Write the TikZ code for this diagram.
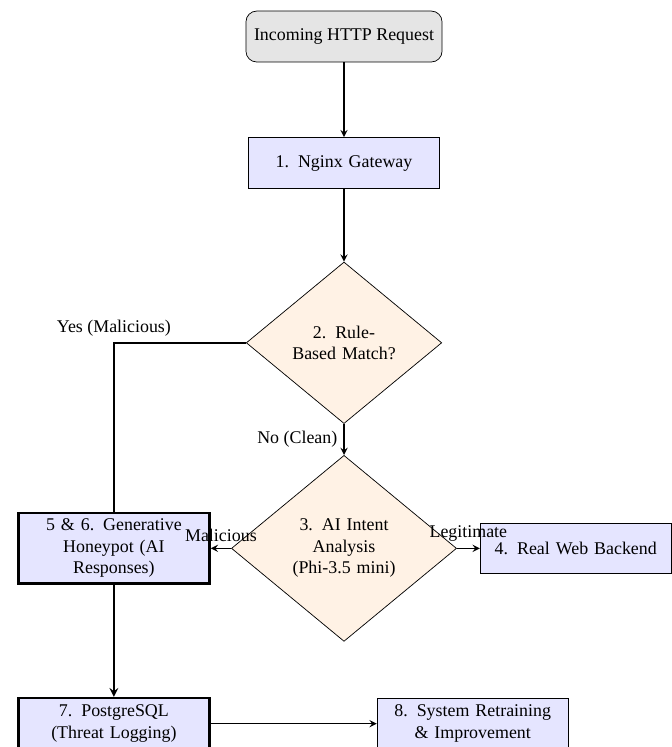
\documentclass[tikz,border=0pt]{standalone}
\usepackage{fontspec}
\setmainfont{Liberation Serif}
\usetikzlibrary{shapes.geometric,positioning}

\begin{document}
\begin{tikzpicture}[
    auto,
    startbox/.style={
        rectangle,
        draw,
        rounded corners=6pt,
        fill=gray!20,
        minimum width=3.85cm,
        minimum height=1cm,
        align=center
    },
    process/.style={
        rectangle,
        draw,
        fill=blue!10,
        text width=3.52cm,
        minimum height=1cm,
        align=center
    },
    keybox/.style={
        process,
        line width=1.4pt
    },
    decision/.style={
        diamond,
        draw,
        fill=orange!10,
        text width=2.25cm,
        aspect=1.21,
        inner sep=5pt,
        align=center
    },
    arrow/.style={draw, thick, -stealth},
    line/.style={draw, thick}
]

% Page frame
\useasboundingbox (-6.755,0.717) rectangle (6.421,-13.951);

% Entry
\node [startbox] (request) at (0,0) {Incoming HTTP Request};

% Main path
\node [process, below=1.47cm of request] (gateway) {1. Nginx Gateway};
\node [decision, below=1.43cm of gateway] (rulematch) {2. Rule-\\Based Match?};
\node [decision, below=0.61cm of rulematch] (intent) {3. AI Intent\\Analysis\\(Phi-3.5 mini)};

% Outcomes
\node [keybox, left=0.40cm of intent] (honeypot) {5 \& 6. Generative\\Honeypot (AI\\Responses)};
\node [process, right=0.45cm of intent] (backend) {4. Real Web Backend};
\node [keybox, below=2.2cm of honeypot] (postgres) {7. PostgreSQL\\(Threat Logging)};
\node [process, right=3.26cm of postgres] (retrain) {8. System Retraining\\\& Improvement};

% Connections
\draw [arrow] (request) -- (gateway);
\draw [arrow] (gateway) -- (rulematch);
\draw [line] (rulematch.west) -| node[pos=0.5, above] {Yes (Malicious)} (honeypot.north);
\draw [arrow] (rulematch) -- node[left] {No (Clean)} (intent);
\draw [arrow] (intent) -- node[above] {Malicious} (honeypot);
\draw [arrow] (intent) -- node[above] {Legitimate} (backend);
\draw [arrow, very thick] (honeypot) -- (postgres);
\draw [arrow] (postgres) -- (retrain);

\end{tikzpicture}
\end{document}
